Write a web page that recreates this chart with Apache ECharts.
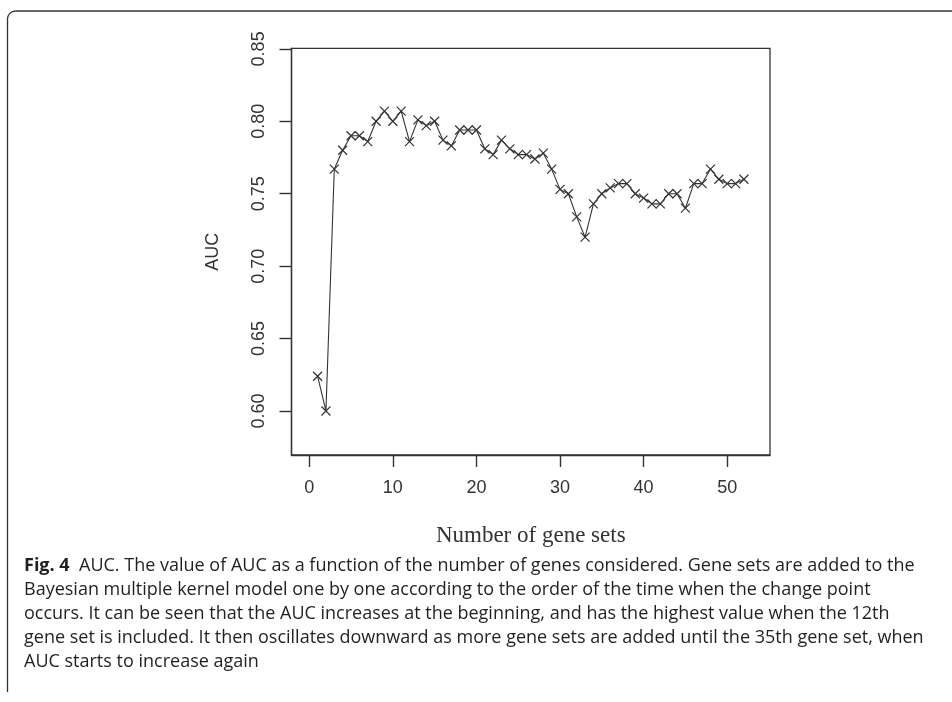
<!DOCTYPE html>
<html>
<head>
<meta charset="utf-8">
<script src="https://cdn.jsdelivr.net/npm/echarts@6/dist/echarts.min.js"></script>
<style>
html,body{margin:0;padding:0;background:#fff;}
#chart{width:952px;height:702px;}
</style>
</head>
<body>
<div id="chart"></div>
<script>
// ---- data ----
var geneSetCounts = [1,2,3,4,5,6,7,8,9,10,11,12,13,14,15,16,17,18,19,20,21,22,23,24,25,26,
  27,28,29,30,31,32,33,34,35,36,37,38,39,40,41,42,43,44,45,46,47,48,49,50,51,52];
var aucValues = [0.624,0.600,0.767,0.780,0.790,0.790,0.786,0.800,0.807,0.800,0.807,0.786,0.801,
  0.797,0.800,0.787,0.783,0.794,0.794,0.794,0.781,0.777,0.787,0.781,0.777,0.777,0.774,0.778,
  0.767,0.753,0.750,0.734,0.720,0.743,0.750,0.754,0.757,0.757,0.750,0.747,0.743,0.743,0.750,
  0.750,0.740,0.757,0.757,0.767,0.760,0.757,0.757,0.760];
var xTicks = [0,10,20,30,40,50];
var yTicks = [0.60,0.65,0.70,0.75,0.80,0.85];
var xTitle = 'Number of gene sets';
var yTitle = 'AUC';
var captionBold = 'Fig. 4';
var captionLines = [
  '  AUC. The value of AUC as a function of the number of genes considered. Gene sets are added to the',
  'Bayesian multiple kernel model one by one according to the order of the time when the change point',
  'occurs. It can be seen that the AUC increases at the beginning, and has the highest value when the 12th',
  'gene set is included. It then oscillates downward as more gene sets are added until the 35th gene set, when',
  'AUC starts to increase again'
];

var points = geneSetCounts.map(function(c, i){ return [c, aucValues[i]]; });

// caption font size fitted to the reference line width
var capFont = '"Open Sans", "Noto Sans", sans-serif';
var cvs = document.createElement('canvas').getContext('2d');
cvs.font = 'bold 16px ' + capFont;
var wb = cvs.measureText(captionBold).width;
cvs.font = '16px ' + capFont;
var wr = cvs.measureText(captionLines[0]).width;
var capSize = Math.max(13, Math.min(18, 16 * 906 / (wb + wr)));

var chart = echarts.init(document.getElementById('chart'), null, {renderer: 'canvas'});

var frameStyle = {stroke: '#333', lineWidth: 1.3, fill: null};
var graphics = [{
  type: 'polyline',
  shape: {points: [[7.5, 692], [7.5, 19]]},
  style: frameStyle
},{
  type: 'arc',
  shape: {cx: 15.5, cy: 19, r: 8, startAngle: Math.PI, endAngle: Math.PI * 1.5},
  style: frameStyle
},{
  type: 'polyline',
  shape: {points: [[15.5, 11], [952, 11]]},
  style: frameStyle
}];
var lineY0 = 569, lineStep = 24;
captionLines.forEach(function(t, i){
  var txt = (i === 0) ? '{b|' + captionBold + '}{r|' + t + '}' : '{r|' + t + '}';
  graphics.push({
    type: 'text',
    left: 24, top: lineY0 + i * lineStep - 12,
    style: {
      text: txt,
      rich: {
        b: {fontFamily: capFont, fontWeight: 'bold', fontSize: capSize, fill: '#231f20', lineHeight: 24},
        r: {fontFamily: capFont, fontSize: capSize, fill: '#231f20', lineHeight: 24}
      }
    }
  });
});

var axisColor = '#333';
chart.setOption({
  animation: false,
  backgroundColor: '#ffffff',
  grid: {left: 291.5, right: 182, top: 48.3, bottom: 247, show: true,
         borderColor: axisColor, borderWidth: 1.3, backgroundColor: 'transparent',
         containLabel: false, outerBoundsMode: 'none'},
  xAxis: {
    type: 'value', min: -2.12, max: 55.12, position: 'bottom',
    name: xTitle, nameLocation: 'middle', nameGap: 69,
    nameTextStyle: {fontFamily: '"Liberation Serif", "Times New Roman", serif', fontSize: 23, color: '#333'},
    axisLine: {show: true, onZero: false, lineStyle: {color: axisColor, width: 1.3}},
    axisTick: {show: true, length: 12, inside: false, customValues: xTicks,
               lineStyle: {color: axisColor, width: 1.4}},
    axisLabel: {show: true, customValues: xTicks, margin: 24, fontSize: 18,
                fontFamily: '"Liberation Sans", Arial, sans-serif', color: '#333',
                formatter: function(v){ return String(v); }},
    splitLine: {show: false}
  },
  yAxis: {
    type: 'value', min: 0.5696, max: 0.8504, position: 'left',
    name: yTitle, nameLocation: 'middle', nameGap: 69, nameRotate: 90,
    nameTextStyle: {fontFamily: '"Liberation Sans", Arial, sans-serif', fontSize: 18, color: '#333'},
    axisLine: {show: true, onZero: false, lineStyle: {color: axisColor, width: 1.3}},
    axisTick: {show: true, length: 12, inside: false, customValues: yTicks,
               lineStyle: {color: axisColor, width: 1.4}},
    axisLabel: {show: true, customValues: yTicks, margin: 23, fontSize: 18, rotate: 90,
                align: 'center', verticalAlign: 'bottom',
                fontFamily: '"Liberation Sans", Arial, sans-serif', color: '#333',
                formatter: function(v){ return v.toFixed(2); }},
    splitLine: {show: false}
  },
  series: [{
    type: 'line',
    data: points,
    symbol: 'path://M0,0L10,10M10,0L0,10',
    symbolSize: 9,
    showSymbol: true,
    lineStyle: {color: '#333', width: 1.1},
    itemStyle: {color: 'rgba(0,0,0,0)', borderColor: '#333', borderWidth: 1.2},
    emphasis: {disabled: true}
  }],
  graphic: graphics
});
</script>
</body>
</html>
